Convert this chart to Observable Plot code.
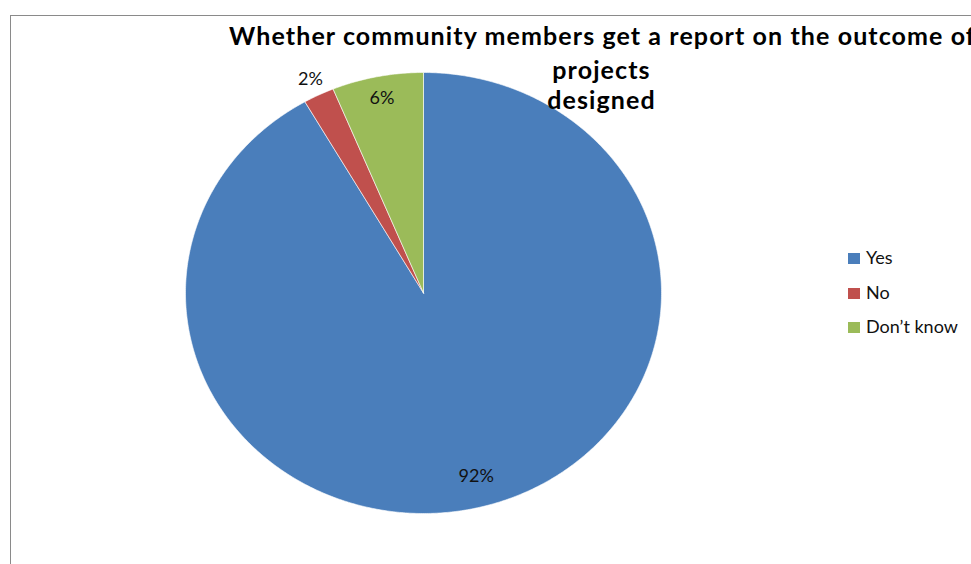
<!DOCTYPE html>
<html>
<head>
<meta charset="utf-8">
<script src="https://cdn.jsdelivr.net/npm/d3@7"></script>
<script src="https://cdn.jsdelivr.net/npm/@observablehq/plot@0.6"></script>
<style>
  html, body { margin: 0; padding: 0; background: #fff; overflow: hidden; }
  #wrap { position: relative; width: 971px; height: 564px; overflow: hidden; }
  #frame { position: absolute; left: 10px; top: 15px; width: 1000px; height: 600px;
           border-left: 1.6px solid #8a8a8a; border-top: 1.6px solid #8a8a8a; box-sizing: border-box; }
  #chart { position: absolute; left: 0; top: 0; }
  .leg { position: absolute; left: 848px; font-family: Lato, "Open Sans", sans-serif; font-size: 18px; color: #111; }
  .leg span.sw { position: absolute; left: 0; top: 0; width: 12px; height: 11px; }
  .leg span.lb { position: absolute; left: 18px; top: -7px; white-space: nowrap; }
  .ttl text { letter-spacing: 1.1px; }
</style>
</head>
<body>
<div id="wrap">
  <div id="frame"></div>
  <div id="chart"></div>
</div>
<script>
// ---- data ----
const categories = ["Yes", "No", "Don\u2019t know"];
const values = [91.7, 2.1, 6.2];
const labels = ["92%", "2%", "6%"];
const colors = ["#4A7EBB", "#C0504D", "#9BBB59"];
const titleLines = ["Whether community members get a report on the outcome of", "projects", "designed"];

// ---- geometry (normalized units: 1 = radius) ----
const labelRadius = [0.86, 1.08, 0.90];
const pie = d3.pie().sort(null).value(d => d.value)(categories.map((c, i) => ({cat: c, value: values[i], label: labels[i], i})));

const slicePts = [];
for (const a of pie) {
  slicePts.push({cat: a.data.cat, x: 0, y: 0});
  const n = Math.max(2, Math.ceil((a.endAngle - a.startAngle) / (Math.PI / 360)));
  for (let k = 0; k <= n; k++) {
    const t = a.startAngle + (a.endAngle - a.startAngle) * k / n;
    slicePts.push({cat: a.data.cat, x: Math.sin(t), y: Math.cos(t)});
  }
  slicePts.push({cat: a.data.cat, x: 0, y: 0});
}
const labelPts = pie.map(a => {
  const m = (a.startAngle + a.endAngle) / 2;
  const r = labelRadius[a.data.i];
  return {text: a.data.label, x: r * Math.sin(m), y: r * Math.cos(m)};
});

const W = 971, H = 564, cx = 423, cy = 292.5, rx = 238, ry = 220.5;
const titleFont = {textAnchor: "middle", lineAnchor: "bottom", fontSize: 25, fontWeight: "bold",
  fontFamily: "Lato, 'Open Sans', sans-serif", fill: "#000", className: "ttl"};

const plot = Plot.plot({
  width: W, height: H,
  marginTop: 0, marginRight: 0, marginBottom: 0, marginLeft: 0,
  x: {domain: [-cx / rx, (W - cx) / rx], axis: null},
  y: {domain: [-(H - cy) / ry, cy / ry], axis: null},
  color: {domain: categories, range: colors},
  style: {background: "transparent", overflow: "visible"},
  marks: [
    Plot.line(slicePts, {x: "x", y: "y", z: "cat", fill: "cat", stroke: "#ffffff", strokeWidth: 0.6, curve: "linear"}),
    Plot.text(labelPts, {x: "x", y: "y", text: "text", fontSize: 18, fontFamily: "Lato, 'Open Sans', sans-serif", fill: "#111"}),
    Plot.text([titleLines[0]], {frameAnchor: "top-left", dx: 602, dy: 44, text: d => d, ...titleFont}),
    Plot.text([titleLines[1]], {frameAnchor: "top-left", dx: 601, dy: 78, text: d => d, ...titleFont}),
    Plot.text([titleLines[2]], {frameAnchor: "top-left", dx: 601, dy: 108, text: d => d, ...titleFont})
  ]
});
plot.querySelectorAll("g[font-size='25']").forEach(g => g.setAttribute("letter-spacing", "1.1"));
document.getElementById("chart").appendChild(plot);

// legend
const wrap = document.getElementById("wrap");
const legTops = [253, 288, 322];
categories.forEach((c, i) => {
  const d = document.createElement("div");
  d.className = "leg";
  d.style.top = legTops[i] + "px";
  d.innerHTML = `<span class="sw" style="background:${colors[i]}"></span><span class="lb"></span>`;
  d.querySelector(".lb").textContent = c;
  wrap.appendChild(d);
});
</script>
</body>
</html>
